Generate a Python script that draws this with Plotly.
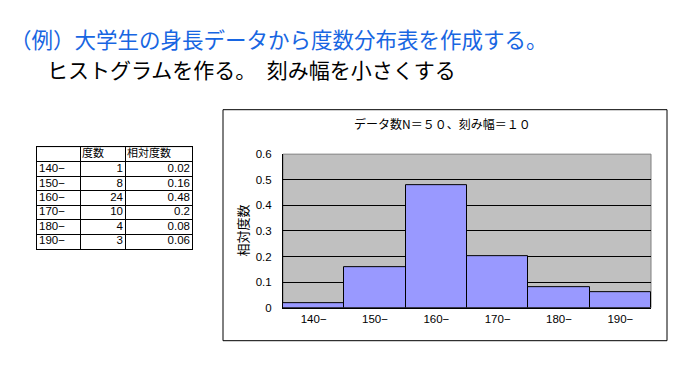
import plotly.graph_objects as go

# ---- data ----
classes = ["140−", "150−", "160−", "170−", "180−", "190−"]
freq = [1, 8, 24, 10, 4, 3]
rel_freq = [0.02, 0.16, 0.48, 0.2, 0.08, 0.06]
y_ticks = [0, 0.1, 0.2, 0.3, 0.4, 0.5, 0.6]
y_tick_text = ["0", "0.1", "0.2", "0.3", "0.4", "0.5", "0.6"]
header = ["", "度数", "相対度数"]
title1 = "（例）大学生の身長データから度数分布表を作成する。"
title2 = "ヒストグラムを作る。　刻み幅を小さくする"
chart_title = "データ数N＝５０、刻み幅＝１０"
y_title = "相対度数"

# page has an 8px body margin, so the figure is drawn 8px smaller and offset
OFF = 8
W, H = 682 - OFF, 367 - OFF
FONT = "Liberation Sans, Arial, Noto Sans CJK JP, sans-serif"
JFONT = "Noto Sans CJK JP, sans-serif"

# table layout (column boundaries in table-axis units, rows are unit height)
col_edges = [0, 43, 88, 155]
n_rows = len(classes) + 1


def px(x):
    return (x - OFF) / W


def py(y):
    return 1 - (y - OFF) / H


fig = go.Figure()

fig.add_trace(go.Bar(
    x=classes, y=rel_freq,
    marker=dict(color="#9999FF", line=dict(color="black", width=1)),
    width=1.0,
    xaxis="x", yaxis="y",
    showlegend=False,
))

# ---- table drawn on its own cartesian axes ----
row_centers = [i + 1.5 for i in range(len(classes))]
pad = 2
fig.add_trace(go.Scatter(  # header
    x=[col_edges[1] + pad, col_edges[2] + pad], y=[0.5, 0.5],
    text=header[1:], mode="text", textposition="middle right",
    textfont=dict(family=JFONT, size=11, color="black"),
    xaxis="x2", yaxis="y2", showlegend=False, hoverinfo="skip",
))
fig.add_trace(go.Scatter(  # class column
    x=[col_edges[0] + pad] * len(classes), y=row_centers,
    text=classes, mode="text", textposition="middle right",
    textfont=dict(family=FONT, size=11.5, color="black"),
    xaxis="x2", yaxis="y2", showlegend=False, hoverinfo="skip",
))
fig.add_trace(go.Scatter(  # frequency column
    x=[col_edges[2] - pad] * len(freq), y=row_centers,
    text=[str(v) for v in freq], mode="text", textposition="middle left",
    textfont=dict(family=FONT, size=11.5, color="black"),
    xaxis="x2", yaxis="y2", showlegend=False, hoverinfo="skip",
))
fig.add_trace(go.Scatter(  # relative frequency column
    x=[col_edges[3] - pad] * len(rel_freq), y=row_centers,
    text=[str(v) for v in rel_freq], mode="text", textposition="middle left",
    textfont=dict(family=FONT, size=11.5, color="black"),
    xaxis="x2", yaxis="y2", showlegend=False, hoverinfo="skip",
))

fig.update_layout(
    width=W, height=H,
    margin=dict(l=0, r=0, t=0, b=0),
    paper_bgcolor="white",
    plot_bgcolor="#C0C0C0",
    bargap=0,
    xaxis=dict(
        domain=[px(283), px(651)],
        showgrid=False, zeroline=False,
        showline=True, linecolor="black", linewidth=1,
        ticks="", tickfont=dict(family=FONT, size=11.5, color="black"),
        fixedrange=True,
    ),
    yaxis=dict(
        domain=[py(312), py(153)],
        range=[0, 0.6],
        tickvals=y_ticks, ticktext=y_tick_text,
        showgrid=True, gridcolor="black", gridwidth=1,
        zeroline=False,
        showline=True, linecolor="black", linewidth=1,
        ticks="", ticklabelstandoff=8,
        tickfont=dict(family=FONT, size=11.5, color="black"),
        fixedrange=True,
    ),
    xaxis2=dict(
        domain=[px(37), px(192)], anchor="y2",
        range=[col_edges[0], col_edges[-1]],
        tickvals=col_edges[1:-1], showticklabels=False, ticks="",
        showgrid=True, gridcolor="black", gridwidth=1, zeroline=False,
        showline=True, mirror=True, linecolor="black", linewidth=1,
        fixedrange=True,
    ),
    yaxis2=dict(
        domain=[py(251), py(146)], anchor="x2",
        range=[n_rows, 0],
        tickvals=list(range(1, n_rows)), showticklabels=False, ticks="",
        showgrid=True, gridcolor="black", gridwidth=1, zeroline=False,
        showline=True, mirror=True, linecolor="black", linewidth=1,
        fixedrange=True,
    ),
    shapes=[
        dict(type="rect", xref="paper", yref="paper",
             x0=px(223), x1=px(667), y0=py(346), y1=py(107),
             line=dict(color="black", width=1), fillcolor="rgba(0,0,0,0)"),
        dict(type="rect", xref="x domain", yref="y domain",
             x0=0, x1=1, y0=0, y1=1, layer="below",
             line=dict(color="#808080", width=1), fillcolor="rgba(0,0,0,0)"),
        dict(type="rect", xref="x2 domain", yref="y2 domain",
             x0=0, x1=1, y0=0, y1=1, layer="below",
             line=dict(width=0), fillcolor="white"),
    ],
    annotations=[
        dict(text=title1, x=px(8), y=py(33), xref="paper", yref="paper",
             xanchor="left", yanchor="middle", showarrow=False,
             font=dict(family=JFONT, size=21.5, color="#1866E2")),
        dict(text=title2, x=px(45), y=py(65), xref="paper", yref="paper",
             xanchor="left", yanchor="middle", showarrow=False,
             font=dict(family=JFONT, size=21, color="black")),
        dict(text=chart_title, x=px(442), y=py(121), xref="paper", yref="paper",
             xanchor="center", yanchor="middle", showarrow=False,
             font=dict(family=JFONT, size=12, color="black")),
        dict(text=y_title, x=px(243), y=py(232), xref="paper", yref="paper",
             xanchor="center", yanchor="middle", showarrow=False, textangle=-90,
             font=dict(family=JFONT, size=13, color="black")),
    ],
)

fig.write_html("out.html")
